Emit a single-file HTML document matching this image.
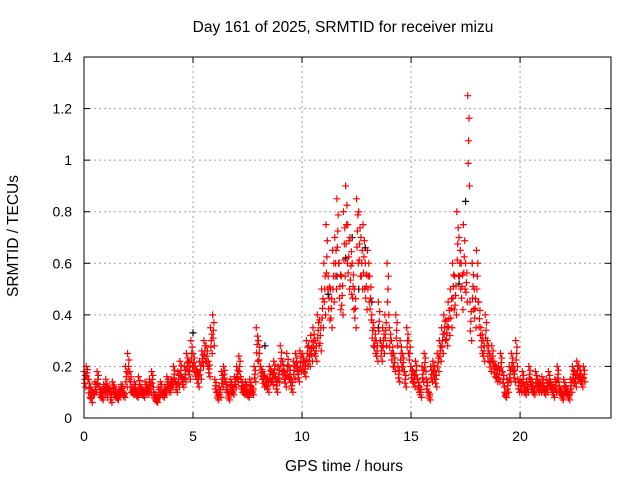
<!DOCTYPE html>
<html><head><meta charset="utf-8"><style>
body{margin:0;background:#fff}
svg text{font-family:"Liberation Sans",sans-serif;font-size:14px;fill:#000}
svg text.big{font-size:15.5px}
</style></head><body>
<svg id="chart" width="640" height="480" xmlns="http://www.w3.org/2000/svg">
<rect width="640" height="480" fill="#fff"/>
<text class="big" x="343" y="32" text-anchor="middle">Day 161 of 2025, SRMTID for receiver mizu</text>
<text class="big" x="344" y="471" text-anchor="middle">GPS time / hours</text>
<text class="big" transform="translate(18,236) rotate(-90)" text-anchor="middle">SRMTID / TECUs</text>
<g id="grid"></g>
<g id="ticks"></g>
<g id="black"></g>
<g id="red"></g>
<rect x="84" y="57" width="527" height="361" fill="none" stroke="#000" stroke-width="1"/>
</svg>
<script>
const xTicks=[0,5,10,15,20];
const yTicks=[0,0.2,0.4,0.6,0.8,1,1.2,1.4];
const yTickLabels=["0","0.2","0.4","0.6","0.8","1","1.2","1.4"];
const redHigh=[0.18,0.2,0.15,0.12,0.1,0.14,0.18,0.12,0.1,0.13,
0.15,0.12,0.1,0.14,0.12,0.09,0.11,0.13,0.1,0.2,
0.25,0.18,0.12,0.14,0.1,0.16,0.12,0.11,0.14,0.12,
0.15,0.18,0.1,0.08,0.12,0.14,0.1,0.12,0.16,0.13,
0.15,0.2,0.14,0.18,0.22,0.16,0.2,0.25,0.22,0.3,
0.25,0.2,0.18,0.22,0.26,0.3,0.28,0.22,0.35,0.4,
0.15,0.1,0.12,0.18,0.2,0.14,0.1,0.15,0.12,0.16,
0.2,0.24,0.15,0.12,0.14,0.1,0.15,0.12,0.2,0.35,
0.3,0.2,0.18,0.16,0.15,0.2,0.18,0.22,0.15,0.2,
0.28,0.22,0.18,0.25,0.2,0.15,0.22,0.25,0.2,0.26,
0.25,0.22,0.3,0.28,0.32,0.35,0.3,0.4,0.38,0.5,
0.6,0.75,0.55,0.5,0.65,0.7,0.85,0.6,0.55,0.8,
0.9,0.75,0.7,0.6,0.5,0.85,0.8,0.7,0.75,0.6,
0.65,0.55,0.4,0.35,0.3,0.45,0.3,0.35,0.4,0.6,
0.35,0.3,0.25,0.4,0.2,0.3,0.25,0.18,0.35,0.3,
0.2,0.18,0.22,0.15,0.12,0.2,0.25,0.15,0.1,0.2,
0.22,0.18,0.25,0.3,0.35,0.4,0.38,0.45,0.5,0.6,
0.55,0.8,0.7,0.6,0.75,0.6,1.25,0.45,0.6,0.5,
0.65,0.45,0.35,0.3,0.4,0.3,0.25,0.28,0.22,0.2,
0.2,0.25,0.18,0.1,0.15,0.2,0.25,0.2,0.3,0.15,
0.15,0.18,0.12,0.14,0.2,0.15,0.12,0.18,0.15,0.14,
0.16,0.12,0.15,0.18,0.14,0.12,0.15,0.2,0.12,0.1,
0.15,0.12,0.1,0.15,0.2,0.18,0.22,0.2,0.17,0.2];
const redLow=[0.12,0.15,0.08,0.06,0.09,0.1,0.12,0.08,0.07,0.1,
0.08,0.1,0.06,0.09,0.08,0.07,0.09,0.1,0.08,0.12,
0.15,0.1,0.09,0.1,0.08,0.1,0.09,0.08,0.1,0.09,
0.1,0.12,0.07,0.06,0.08,0.1,0.08,0.09,0.12,0.1,
0.12,0.14,0.1,0.12,0.15,0.12,0.14,0.18,0.15,0.2,
0.18,0.15,0.12,0.15,0.2,0.22,0.2,0.16,0.25,0.28,
0.1,0.07,0.08,0.12,0.14,0.1,0.07,0.1,0.09,0.12,
0.14,0.16,0.1,0.09,0.1,0.08,0.1,0.09,0.14,0.22,
0.2,0.15,0.12,0.12,0.1,0.14,0.13,0.16,0.1,0.14,
0.18,0.15,0.12,0.16,0.14,0.1,0.15,0.18,0.14,0.18,
0.18,0.16,0.2,0.2,0.22,0.25,0.22,0.28,0.26,0.35,
0.4,0.5,0.38,0.35,0.45,0.5,0.6,0.42,0.4,0.55,
0.6,0.5,0.48,0.42,0.35,0.6,0.55,0.5,0.5,0.42,
0.45,0.38,0.28,0.25,0.22,0.3,0.22,0.25,0.28,0.4,
0.25,0.2,0.18,0.28,0.14,0.2,0.18,0.12,0.25,0.2,
0.14,0.12,0.15,0.1,0.08,0.14,0.18,0.1,0.07,0.14,
0.15,0.12,0.18,0.22,0.25,0.3,0.28,0.32,0.35,0.42,
0.4,0.55,0.5,0.42,0.5,0.45,0.9,0.3,0.42,0.35,
0.45,0.32,0.25,0.22,0.28,0.22,0.18,0.2,0.16,0.14,
0.14,0.18,0.12,0.08,0.1,0.14,0.18,0.14,0.2,0.1,
0.1,0.12,0.09,0.1,0.14,0.1,0.09,0.12,0.1,0.1,
0.11,0.09,0.1,0.12,0.1,0.08,0.1,0.14,0.09,0.07,
0.1,0.09,0.07,0.1,0.14,0.12,0.15,0.14,0.12,0.14];
const blackTimes=[11.2,11.6,12.0,12.3,12.6,12.9,13.2,13.5,17.2,17.5,17.8,5.0,8.3];
const blackValues=[0.48,0.55,0.62,0.7,0.5,0.66,0.45,0.35,0.52,0.84,0.6,0.33,0.28];

const X0=84,X1=611,Y0=418,Y1=57,XMAX=24.17,YMAX=1.4;
function sx(v){return X0+v/XMAX*(X1-X0);}
function sy(v){return Y0-v/YMAX*(Y0-Y1);}
const NS="http://www.w3.org/2000/svg";
function mk(tag,attrs,parent){const e=document.createElementNS(NS,tag);for(const k in attrs)e.setAttribute(k,attrs[k]);parent.appendChild(e);return e;}
const grid=document.getElementById('grid'),ticks=document.getElementById('ticks');
xTicks.forEach(t=>{
  const x=sx(t);
  if(t>0){const g=mk('line',{x1:x,x2:x,y1:Y0,y2:Y1,stroke:'#a0a0a0','stroke-dasharray':'2,3'},grid);
  
  }
  mk('line',{x1:x,x2:x,y1:Y0,y2:Y0-6,stroke:'#000'},ticks);
  mk('line',{x1:x,x2:x,y1:Y1,y2:Y1+6,stroke:'#000'},ticks);
  const tx=mk('text',{x:x,y:Y0+23,'text-anchor':'middle'},ticks);tx.textContent=t;
  
  
});
yTicks.forEach((t,i)=>{
  const y=sy(t);
  if(t>0&&t<YMAX){const g=mk('line',{x1:X0,x2:X1,y1:y,y2:y,stroke:'#a0a0a0','stroke-dasharray':'2,3'},grid);
  
  }
  mk('line',{x1:X0,x2:X0+6,y1:y,y2:y,stroke:'#000'},ticks);
  mk('line',{x1:X1,x2:X1-6,y1:y,y2:y,stroke:'#000'},ticks);
  const tx=mk('text',{x:X0-12,y:y+5,'text-anchor':'end'},ticks);tx.textContent=yTickLabels[i];
  
  
});
function plus(x,y,col,parent){
  const p=mk('path',{d:`M${x-3.5},${y}h7M${x},${y-3.5}v7`,stroke:col,'stroke-width':1.2,fill:'none'},parent);
  
  
}
const blk=document.getElementById('black'),red=document.getElementById('red');
blackTimes.forEach((t,i)=>plus(sx(t),sy(blackValues[i]),'#000',blk));
redHigh.forEach((v,i)=>{
  const t=i*0.1, lo=redLow[i];
  for(let k=0;k<=4;k++){
    const tv=t+k*0.02;
    const val=lo+(v-lo)*(k%2?k/4:1-k/4);
    plus(sx(tv),sy(val),'#ff0000',red);
  }
});
</script>
</body></html>
